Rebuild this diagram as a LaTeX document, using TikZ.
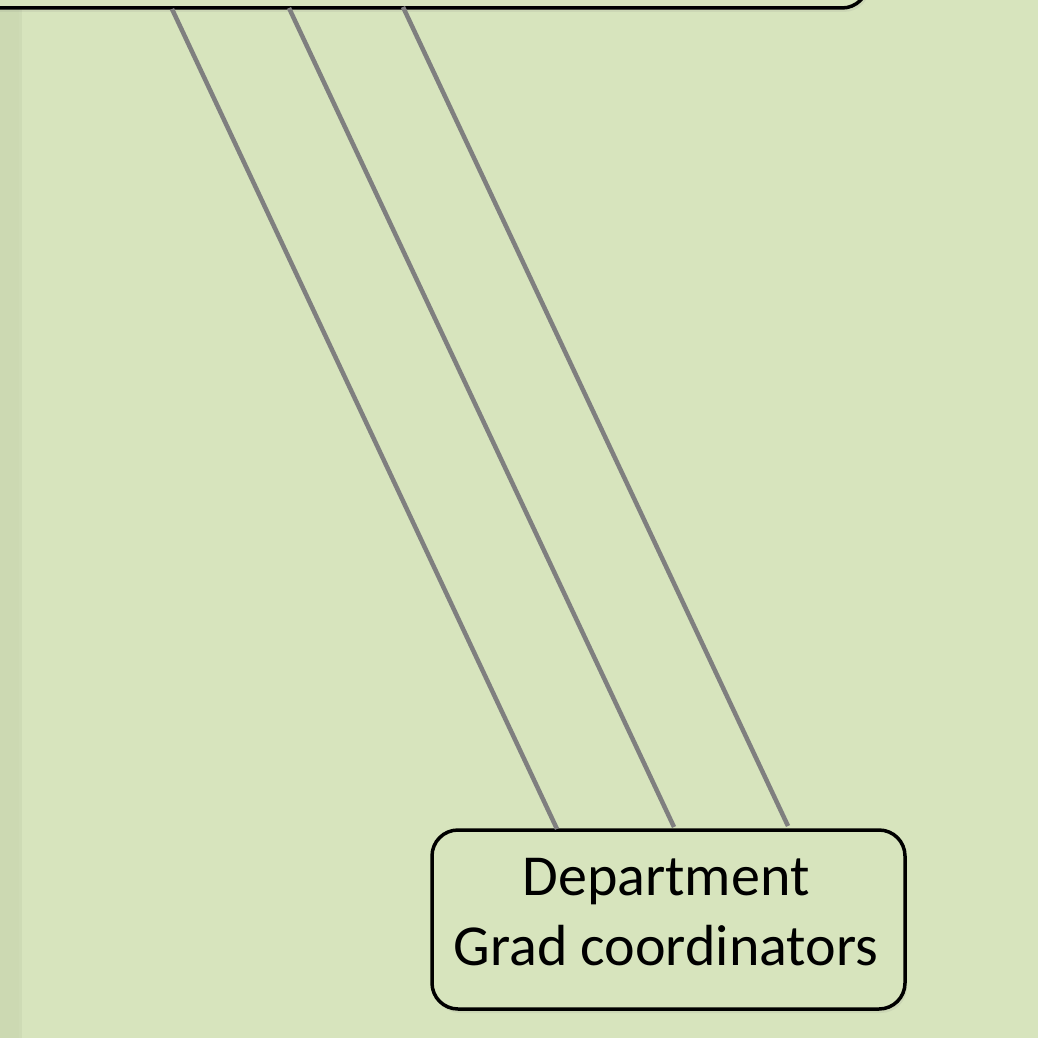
\documentclass[tikz,border=0pt]{standalone}
\usepackage{fontspec}
\setmainfont{Carlito}
\usetikzlibrary{shadows}
\definecolor{bg}{HTML}{D7E4BD}
\definecolor{strip}{HTML}{CCD9B2}
\definecolor{conn}{HTML}{7F7F7F}
\tikzset{
  orgbox/.style={draw=black, line width=3.5pt, fill=bg, rounded corners=26pt,
    drop shadow={opacity=0.12, shadow xshift=2pt, shadow yshift=-4pt}},
  link/.style={draw=conn, line width=4.5pt}
}
\begin{document}
\begin{tikzpicture}[x=1pt,y=-1pt]
\useasboundingbox (0,0) rectangle (1038,1038);
\fill[bg] (0,0) rectangle (1038,1038);
\fill[strip] (0,0) rectangle (19,1038);
\fill[black, opacity=0.04] (19,0) rectangle (22,1038);
% top box (cut off)
\node[orgbox, minimum width=920pt, minimum height=200pt, inner sep=0pt] (top) at (408,-92) {};
% bottom box
\node[orgbox, minimum width=473pt, minimum height=179pt, inner sep=0pt] (dept) at (668.5,919.5) {};
\node[font=\fontsize{58}{70}\selectfont, align=center, inner sep=0pt] (deptlabel) at (666,912) {Department\\Grad coordinators};
% connectors
\coordinate (t1) at (172,9);
\coordinate (t2) at (289,8);
\coordinate (t3) at (403,7);
\coordinate (b1) at (557,829);
\coordinate (b2) at (674,827);
\coordinate (b3) at (788,826);
\draw[link] (t1) -- (b1);
\draw[link] (t2) -- (b2);
\draw[link] (t3) -- (b3);
\end{tikzpicture}
\end{document}
